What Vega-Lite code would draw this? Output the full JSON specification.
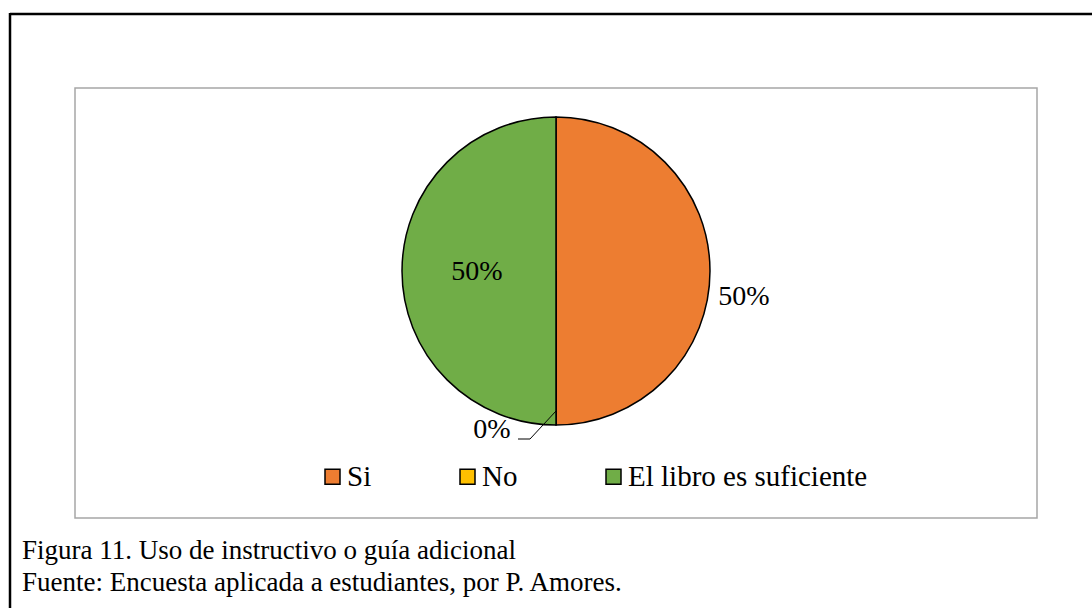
{
  "$schema": "https://vega.github.io/schema/vega-lite/v6.json",
  "width": 962,
  "height": 430,
  "autosize": {"type": "none"},
  "padding": {"left": 75, "top": 88, "right": 55, "bottom": 90},
  "background": "white",
  "config": {
    "view": {"stroke": null},
    "font": "Times New Roman, Liberation Serif, serif"
  },
  "title": {
    "text": ["Figura 11. Uso de instructivo o guía adicional", "Fuente: Encuesta aplicada a estudiantes, por P. Amores."],
    "orient": "bottom",
    "anchor": "start",
    "frame": "group",
    "dx": -53,
    "offset": -71,
    "font": "Times New Roman, Liberation Serif, serif",
    "fontSize": 27,
    "fontWeight": "normal",
    "color": "black",
    "lineHeight": 32,
    "baseline": "top"
  },
  "data": {
    "values": [
      {"cat": "Si", "pct": 0.5, "n": 1},
      {"cat": "No", "pct": 0.0, "n": 2},
      {"cat": "El libro es suficiente", "pct": 0.5, "n": 3}
    ]
  },
  "layer": [
    {
      "data": {"values": [{}]},
      "mark": {"type": "rect", "fill": null, "stroke": "#A6A6A6", "strokeWidth": 1.5},
      "encoding": {
        "x": {"value": 0},
        "x2": {"value": "width"},
        "y": {"value": 0},
        "y2": {"value": "height"}
      }
    },
    {
      "mark": {"type": "arc", "radius": 154, "stroke": "black", "strokeWidth": 1.5, "yOffset": -32},
      "encoding": {
        "theta": {"field": "pct", "type": "quantitative", "stack": true},
        "order": {"field": "n", "type": "quantitative"},
        "color": {
          "field": "cat",
          "type": "nominal",
          "scale": {"domain": ["Si", "No", "El libro es suficiente"], "range": ["#ED7D31", "#FFC000", "#70AD47"]},
          "legend": {
            "title": null,
            "orient": "none",
            "direction": "horizontal",
            "legendX": 243,
            "legendY": 374,
            "padding": 0,
            "symbolType": "square",
            "symbolSize": 225,
            "symbolStrokeColor": "black",
            "symbolStrokeWidth": 1.5,
            "symbolOpacity": 1,
            "labelFont": "Times New Roman, Liberation Serif, serif",
            "labelFontSize": 29,
            "labelColor": "black",
            "labelOffset": 0,
            "columnPadding": 81,
            "labelLimit": 400
          }
        }
      }
    },
    {
      "mark": {"type": "text", "radius": 79, "yOffset": -31, "font": "Times New Roman, Liberation Serif, serif", "fontSize": 28, "color": "black", "align": "center", "baseline": "middle"},
      "encoding": {
        "theta": {"field": "pct", "type": "quantitative", "stack": true},
        "order": {"field": "n", "type": "quantitative"},
        "text": {"condition": {"test": "datum.cat === 'El libro es suficiente'", "field": "pct", "type": "quantitative", "format": ".0%"}, "value": ""}
      }
    },
    {
      "mark": {"type": "text", "radius": 188, "yOffset": -6, "font": "Times New Roman, Liberation Serif, serif", "fontSize": 28, "color": "black", "align": "center", "baseline": "middle"},
      "encoding": {
        "theta": {"field": "pct", "type": "quantitative", "stack": true},
        "order": {"field": "n", "type": "quantitative"},
        "text": {"condition": {"test": "datum.cat === 'Si'", "field": "pct", "type": "quantitative", "format": ".0%"}, "value": ""}
      }
    },
    {
      "mark": {"type": "text", "radius": 159, "yOffset": -32, "dx": -64, "font": "Times New Roman, Liberation Serif, serif", "fontSize": 28, "color": "black", "align": "center", "baseline": "middle"},
      "encoding": {
        "theta": {"field": "pct", "type": "quantitative", "stack": true},
        "order": {"field": "n", "type": "quantitative"},
        "text": {"condition": {"test": "datum.cat === 'No'", "field": "pct", "type": "quantitative", "format": ".0%"}, "value": ""}
      }
    },
    {
      "data": {"values": [{}]},
      "mark": {"type": "rule", "stroke": "black", "strokeWidth": 2.5},
      "encoding": {"x": {"value": -65}, "x2": {"value": 1040}, "y": {"value": -74}, "y2": {"value": -74}}
    },
    {
      "data": {"values": [{}]},
      "mark": {"type": "rule", "stroke": "black", "strokeWidth": 2.5},
      "encoding": {"x": {"value": -65}, "x2": {"value": -65}, "y": {"value": -75}, "y2": {"value": 520}}
    },
    {
      "data": {"values": [{}]},
      "mark": {"type": "rule", "stroke": "black", "strokeWidth": 1},
      "encoding": {"x": {"value": 443}, "x2": {"value": 455}, "y": {"value": 351}, "y2": {"value": 351}}
    },
    {
      "data": {"values": [{}]},
      "mark": {"type": "rule", "stroke": "black", "strokeWidth": 1},
      "encoding": {"x": {"value": 455}, "x2": {"value": 481}, "y": {"value": 351}, "y2": {"value": 323}}
    }
  ]
}
